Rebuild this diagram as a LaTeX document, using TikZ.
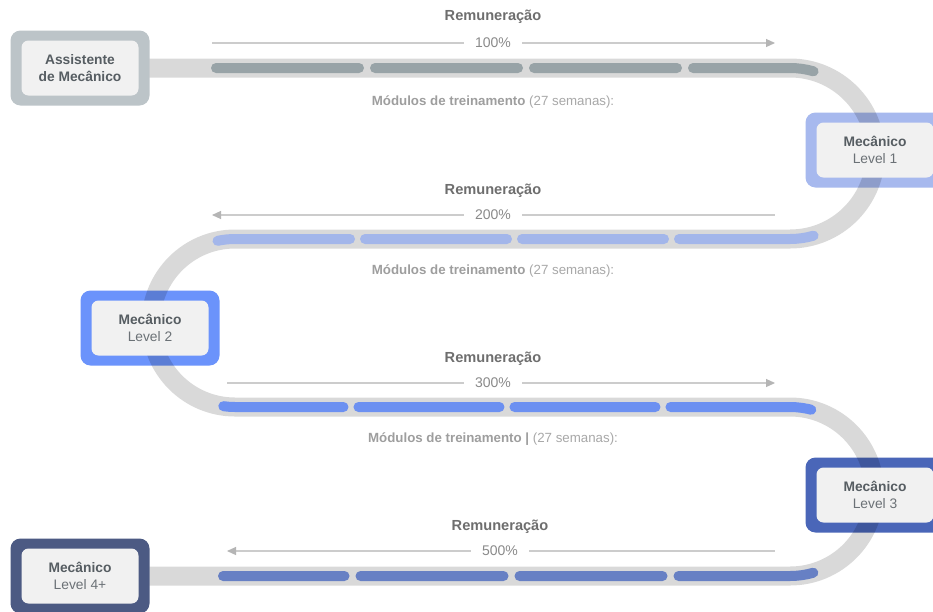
\documentclass[tikz,border=0pt]{standalone}
\usepackage{fontspec}
\setmainfont{Liberation Sans}
\usepackage{xcolor}
\usetikzlibrary{arrows.meta,positioning}
\definecolor{rimA}{HTML}{BCC4C8}
\definecolor{rimB}{HTML}{A7B9EE}
\definecolor{rimC}{HTML}{6B93FB}
\definecolor{rimD}{HTML}{4A66B8}
\definecolor{rimE}{HTML}{4C5A83}
\definecolor{segA}{HTML}{98A3A7}
\definecolor{segB}{HTML}{A3B6EA}
\definecolor{segC}{HTML}{6C90F1}
\definecolor{segD}{HTML}{6780C4}
\definecolor{cardbg}{HTML}{F1F1F1}
\definecolor{cardtx}{HTML}{565D62}
\definecolor{cardlt}{HTML}{6B7176}
\definecolor{remutx}{HTML}{6E6E6E}
\definecolor{pcttx}{HTML}{8A8A8A}
\definecolor{notetx}{HTML}{9E9E9E}
\definecolor{notelt}{HTML}{A8A8A8}
\definecolor{paygray}{HTML}{CCCCCC}
\definecolor{tipgray}{HTML}{B5B5B5}
\newcommand{\lvl}[1]{\textbf{Mecânico}\\\textcolor{cardlt}{#1}}
\newcommand{\modulos}[1]{\textbf{Módulos de treinamento#1} \textcolor{notelt}{(27 semanas):}}

\begin{document}
\begin{tikzpicture}[x=1pt, y=-1pt, node distance=24pt,
    rim/.style={fill=#1, rounded corners=10pt, minimum width=139pt, minimum height=75pt, inner sep=0pt},
    card/.style={fill=cardbg, rounded corners=7pt, minimum width=117pt, minimum height=55pt, inner sep=0pt,
        align=center, text=cardtx, font=\fontsize{13.8}{17}\selectfont},
    track/.style={draw=black, draw opacity=.15, line width=19pt},
    seg/.style={draw=#1, line width=10pt, line cap=round},
    pct/.style={fill=white, inner xsep=11pt, inner ysep=2pt, text=pcttx, font=\fontsize{14}{16}\selectfont},
    remu/.style={text=remutx, font=\fontsize{14.6}{16}\selectfont\bfseries},
    note/.style={text=notetx, font=\fontsize{13.3}{15}\selectfont},
    pay/.style={draw=paygray, line width=1.1pt},
    payto/.style={pay, -{Triangle[length=9pt,width=8pt,color=tipgray]}}
]
    \clip (0,0) rectangle (933,611);
    \fill[white] (0,0) rectangle (933,611);

    \node[rim=rimA] (f0) at (80,68) {};
    \node[rim=rimB] (f1) at (875,150) {};
    \node[rim=rimC] (f2) at (150,328) {};
    \node[rim=rimD] (f3) at (875,495) {};
    \node[rim=rimE] (f4) at (80,576) {};

    \draw[track] (f0.east) -- (790,68) arc (-90:90:85.5) -- (235,239) arc (-90:-270:84)
        -- (790,407) arc (-90:90:84.5) -- (f4.east);

    \draw[seg=segA, dash pattern=on 143pt off 16pt] (216,68) -- (790,68) arc (-90:-74:85.5);
    \draw[seg=segB, dash pattern=on 142pt off 15pt, dash phase=9.4pt]
        (235,323) ++(-102:84) arc (-102:-90:84) -- (790,239) arc (90:74:85.5);
    \draw[seg=segC, dash pattern=on 141pt off 15pt, dash phase=20.8pt]
        (235,323) ++(98:84) arc (98:90:84) -- (790,407) arc (-90:-74:84.5);
    \draw[seg=segD, dash pattern=on 143pt off 16pt, dash phase=21.5pt] (223,576) -- (790,576) arc (90:74:84.5);

    \node[card] (c0) at (f0) {\textbf{Assistente}\\\textbf{de Mecânico}};
    \node[card] (c1) at (f1) {\lvl{Level 1}};
    \node[card] (c2) at (f2) {\lvl{Level 2}};
    \node[card] (c3) at (f3) {\lvl{Level 3}};
    \node[card] (c4) at (f4) {\lvl{Level 4+}};

    \node[pct] (p1) at (493,43) {100\%};
    \node[remu, above of=p1, node distance=26pt] (r1) {Remuneração};
    \node[note, below of=p1, node distance=59pt] (m1) {\modulos{}};
    \coordinate (s1) at (212,43);
    \coordinate (e1) at (775,43);
    \draw[pay] (p1) -- (s1);
    \draw[payto] (p1) -- (e1);

    \node[pct] (p2) at (493,215) {200\%};
    \node[remu, above of=p2] (r2) {Remuneração};
    \node[note, below of=p2, node distance=56pt] (m2) {\modulos{}};
    \coordinate (s2) at (775,215);
    \coordinate (e2) at (212,215);
    \draw[pay] (p2) -- (s2);
    \draw[payto] (p2) -- (e2);

    \node[pct] (p3) at (493,383) {300\%};
    \node[remu, above of=p3] (r3) {Remuneração};
    \node[note, below of=p3, node distance=56pt] (m3) {\modulos{ |}};
    \coordinate (s3) at (227,383);
    \coordinate (e3) at (775,383);
    \draw[pay] (p3) -- (s3);
    \draw[payto] (p3) -- (e3);

    \node[pct] (p4) at (500,551) {500\%};
    \node[remu, above of=p4] (r4) {Remuneração};
    \coordinate (s4) at (775,551);
    \coordinate (e4) at (227,551);
    \draw[pay] (p4) -- (s4);
    \draw[payto] (p4) -- (e4);
\end{tikzpicture}
\end{document}
